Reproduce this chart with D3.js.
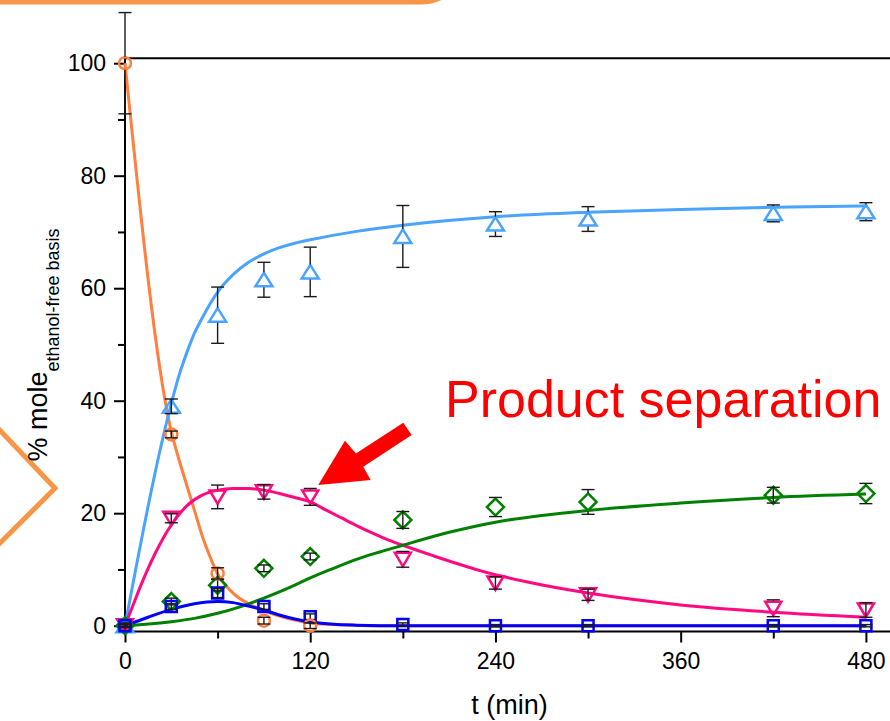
<!DOCTYPE html>
<html>
<head>
<meta charset="utf-8">
<script src="https://cdn.jsdelivr.net/npm/d3@7"></script>
<style>
  html, body { margin: 0; padding: 0; background: #fff; }
  svg { display: block; font-family: "Liberation Sans", Arial, Helvetica, sans-serif; }
</style>
</head>
<body>
<svg id="chart" width="890" height="721"></svg>
<script>
// Sampling times (min) of the measured composition
const sampleTimes = [0, 30, 60, 90, 120, 180, 240, 300, 420, 480];

// Measured % mole (ethanol-free basis) with error bars
const reactantTimes = [0, 30, 60, 90, 120];
const reactantVals  = [100, 34, 9.3, 0.9, 0];
const reactantErr   = [9, 0.6, 1.0, 0.6, 0.5];

const mainVals = [0, 39, 55.2, 61.5, 62.9, 69.2, 71.4, 72.3, 73.3, 73.6];
const mainErr  = [0.5, 1.3, 5.0, 3.1, 4.4, 5.5, 2.2, 2.2, 1.5, 1.6];

const interVals = [0, 19.1, 22.9, 23.8, 22.9, 11.8, 7.6, 5.5, 3.1, 2.8];
const interErr  = [0.3, 0.8, 2.1, 1.3, 1.5, 1.4, 1.1, 1.0, 1.5, 1.3];

const sideVals = [0, 4.3, 7.2, 10.2, 12.3, 18.8, 21.1, 22.0, 23.2, 23.5];
const sideErr  = [0.3, 0.6, 1.0, 0.6, 0.6, 1.5, 1.7, 2.2, 1.4, 1.8];

const minorVals = [0, 3.4, 5.8, 3.4, 1.6, 0.2, 0, 0, 0, 0];
const minorErr  = [0.2, 0.5, 0.8, 0.5, 0.5, 0.3, 0.2, 0.2, 0.2, 0.2];

// Kinetic model curves: [t, % mole]
const reactantFit = [[0,100],[30,34.5],[35,29.5],[40,25],[45,20.5],[50,16],[55,12.3],[60,9.2],[70,5.8],[80,3.9],[90,2.7],[100,1.7],[110,1.0],[120,0.5],[140,0.15],[160,0],[480,0]];
const mainFit = [[0,0],[30,39.5],[35,44.5],[40,48.5],[45,52],[50,54.7],[60,59.3],[70,62.4],[80,64.6],[90,66.1],[100,67.2],[110,68.0],[120,68.6],[150,70.1],[180,71.2],[240,72.7],[300,73.5],[360,74.0],[420,74.4],[480,74.6]];
const interFit = [[0,0],[5,3.5],[10,7],[15,10.2],[20,13.1],[25,15.7],[30,17.9],[40,21.3],[50,23.2],[60,24.1],[70,24.4],[80,24.4],[90,24.1],[100,23.5],[110,22.8],[120,22.0],[130,20.6],[140,19.2],[150,17.8],[160,16.5],[170,15.3],[180,14.3],[200,12.4],[230,9.8],[260,7.8],[300,5.8],[360,3.7],[420,2.4],[480,1.5]];
const sideFit = [[0,0],[30,0.7],[45,1.3],[60,2.2],[75,3.4],[90,4.9],[100,6.0],[110,7.2],[120,8.5],[135,10.2],[150,11.8],[165,13.1],[180,14.3],[210,16.6],[240,18.4],[270,19.6],[300,20.5],[360,21.8],[420,22.8],[480,23.4]];
const minorFit = [[0,0],[15,1.5],[30,2.9],[45,3.9],[60,4.3],[70,4.1],[80,3.5],[90,2.8],[100,1.9],[110,1.2],[120,0.7],[135,0.25],[150,0.1],[180,0],[480,0]];

// Axis ticks
const xMajorTicks = [0, 120, 240, 360, 480];
const xMinorTicks = [60, 180, 300, 420];
const yMajorTicks = [0, 20, 40, 60, 80, 100];
const yMinorTicks = [10, 30, 50, 70, 90];

const svg = d3.select("#chart");
const W = 890;

const x = d3.scaleLinear().domain([0, 480]).range([125, 865.9]);
const y = d3.scaleLinear().domain([0, 100]).range([625.7, 63.2]);
const yBottom = y(-1.03);
const yTop = y(100.87);

// Orange frame fragments around the figure
svg.append("rect")
  .attr("x", -60).attr("y", -200).attr("width", 525.5).attr("height", 202)
  .attr("rx", 44.5).attr("ry", 44.5)
  .attr("fill", "none").attr("stroke", "#f79646").attr("stroke-width", 5);
svg.append("polyline")
  .attr("points", "-6,424 55,488.3 -6,549")
  .attr("fill", "none").attr("stroke", "#f79646").attr("stroke-width", 5)
  .attr("stroke-linejoin", "miter");

// Axes
function styleAxis(g) {
  g.select(".domain").remove();
  g.selectAll(".tick line").attr("stroke", "#000").attr("stroke-width", 2);
  g.selectAll(".tick text").attr("fill", "#000").attr("font-size", 23)
    .attr("font-family", "'Liberation Sans', Arial, sans-serif");
}
svg.append("g").attr("transform", `translate(0,${yBottom})`)
  .call(d3.axisBottom(x).tickValues(xMajorTicks).tickSize(11).tickPadding(10.5).tickFormat(d3.format("d")))
  .call(styleAxis);
svg.append("g").attr("transform", `translate(0,${yBottom})`)
  .call(d3.axisBottom(x).tickValues(xMinorTicks).tickSize(7).tickFormat(""))
  .call(styleAxis);
svg.append("g").attr("transform", `translate(${x(0)},0)`)
  .call(d3.axisLeft(y).tickValues(yMajorTicks).tickSize(11).tickPadding(8).tickFormat(d3.format("d")))
  .call(styleAxis);
svg.append("g").attr("transform", `translate(${x(0)},0)`)
  .call(d3.axisLeft(y).tickValues(yMinorTicks).tickSize(7).tickFormat(""))
  .call(styleAxis);

// Frame lines
svg.append("line").attr("x1", x(0)).attr("x2", W + 5).attr("y1", yBottom).attr("y2", yBottom)
  .attr("stroke", "#000").attr("stroke-width", 2);
svg.append("line").attr("x1", x(0)).attr("x2", W + 5).attr("y1", yTop).attr("y2", yTop)
  .attr("stroke", "#000").attr("stroke-width", 2);
svg.append("line").attr("x1", x(0)).attr("x2", x(0)).attr("y1", yTop - 1).attr("y2", yBottom + 1)
  .attr("stroke", "#000").attr("stroke-width", 2);

// Axis titles
svg.append("text")
  .attr("x", (x(0) + W) / 2 + 2).attr("y", 714)
  .attr("text-anchor", "middle").attr("font-size", 27).attr("fill", "#000")
  .text("t (min)");
const yTitle = svg.append("text")
  .attr("transform", "translate(47,345) rotate(-90)")
  .attr("text-anchor", "middle").attr("fill", "#000");
yTitle.append("tspan").attr("font-size", 27).text("% mole");
yTitle.append("tspan").attr("font-size", 18).attr("dy", 12).text("ethanol-free basis");

// Model curves
const line = d3.line().x(d => x(d[0])).y(d => y(d[1])).curve(d3.curveMonotoneX);
const series = [
  { fit: reactantFit, color: "#ff7f3f" },
  { fit: mainFit,     color: "#4aa3ff" },
  { fit: interFit,    color: "#ff0a80" },
  { fit: sideFit,     color: "#008000" },
  { fit: minorFit,    color: "#0000ff" }
];
series.forEach(s => {
  svg.append("path").datum(s.fit).attr("d", line)
    .attr("fill", "none").attr("stroke", s.color).attr("stroke-width", 3)
    .attr("stroke-linejoin", "round");
});

// Marker shapes (centred on the data point)
const shapes = {
  circle:  { path: "M6,0A6,6 0 1,1 -6,0A6,6 0 1,1 6,0Z", gap: 6.5 },
  triUp:   { path: "M0,-7L8.5,6.5L-8.5,6.5Z", gap: 7.5 },
  triDown: { path: "M-8,-6.5L8,-6.5L0,7Z", gap: 7.5 },
  diamond: { path: "M0,-8.5L8.5,0L0,8.5L-8.5,0Z", gap: 9 },
  square:  { path: "M-5.5,-5.5H5.5V5.5H-5.5Z", gap: 6 }
};

function drawPoints(ts, vals, errs, shape, color) {
  const g = svg.append("g");
  const pts = ts.map((t, i) => ({ t, v: vals[i], e: errs[i] }));
  g.selectAll("path.m").data(pts).join("path")
    .attr("class", "m")
    .attr("transform", d => `translate(${x(d.t)},${y(d.v)})`)
    .attr("d", shapes[shape].path)
    .attr("fill", "none").attr("stroke", color).attr("stroke-width", 2.5)
    .attr("stroke-linejoin", "miter");
  // Error bars: caps always, stem kept outside the marker body
  const gap = shapes[shape].gap;
  const eg = g.append("g").attr("stroke", "#1a1a1a").attr("stroke-width", 1.4);
  pts.forEach(d => {
    const cx = x(d.t), cy = y(d.v), top = y(d.v + d.e), bot = y(d.v - d.e);
    if (cy - top > gap) {
      eg.append("line").attr("x1", cx).attr("x2", cx).attr("y1", top).attr("y2", cy - gap);
      eg.append("line").attr("x1", cx).attr("x2", cx).attr("y1", cy + gap).attr("y2", bot);
    } else {
      eg.append("line").attr("x1", cx).attr("x2", cx).attr("y1", top).attr("y2", bot);
    }
    eg.append("line").attr("x1", cx - 6.5).attr("x2", cx + 6.5).attr("y1", top).attr("y2", top);
    eg.append("line").attr("x1", cx - 6.5).attr("x2", cx + 6.5).attr("y1", bot).attr("y2", bot);
  });
}

drawPoints(sampleTimes, mainVals, mainErr, "triUp", "#4aa3ff");
drawPoints(sampleTimes, interVals, interErr, "triDown", "#ff0a80");
drawPoints(sampleTimes, sideVals, sideErr, "diamond", "#008000");
drawPoints(sampleTimes, minorVals, minorErr, "square", "#0000ff");
drawPoints(reactantTimes, reactantVals, reactantErr, "circle", "#ff7f3f");

// Annotation: arrow pointing at the intermediate maximum
const tipX = x(125.2), tipY = y(25.0);
const arrowPts = [[0,0],[26.7,-44.3],[37.7,-31.7],[85,-62.3],[93.4,-50],[45,-18.3],[52.4,-5]];
svg.append("polygon")
  .attr("points", arrowPts.map(p => `${tipX + p[0]},${tipY + p[1]}`).join(" "))
  .attr("fill", "#ff0000");
svg.append("text")
  .attr("x", x(207.3)).attr("y", y(37.1))
  .attr("font-size", 52).attr("fill", "#ff0000")
  .text("Product separation");
</script>
</body>
</html>
